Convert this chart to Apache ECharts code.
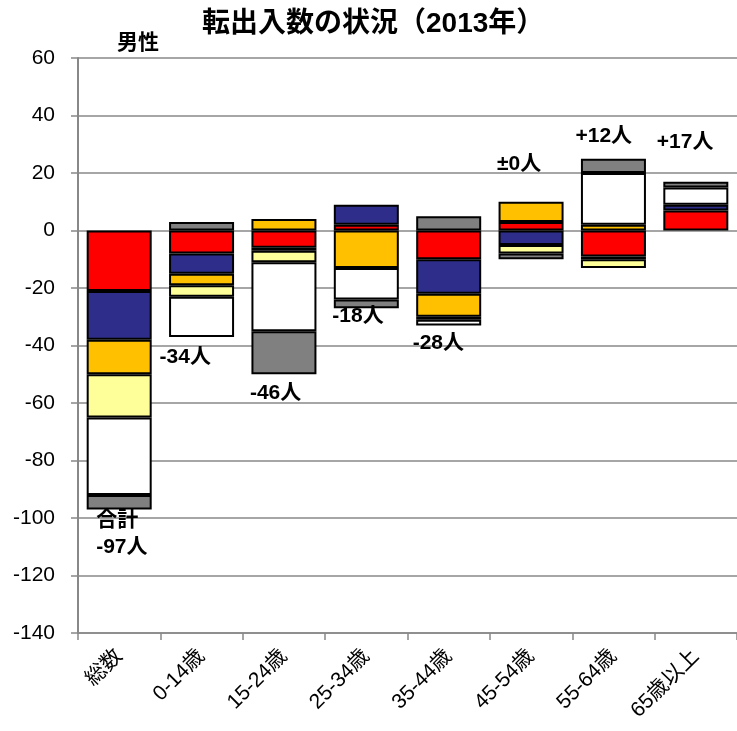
<!DOCTYPE html>
<html>
<head>
<meta charset="utf-8">
<script src="https://cdn.jsdelivr.net/npm/echarts@6/dist/echarts.min.js"></script>
<style>
  html, body { margin: 0; padding: 0; background: #fff; }
  #chart { width: 737px; height: 731px; }
</style>
</head>
<body>
<div id="chart"></div>
<script>
// categories and per-segment values (persons)
const categories = ["総数", "0-14歳", "15-24歳", "25-34歳", "35-44歳", "45-54歳", "55-64歳", "65歳以上"];
const redValues = [-21, -8, -6, 2, -10, 3, -9, 7];
const navyValues = [-17, -7, -1, 7, -12, -5, -1, 2];
const orangeValues = [-12, -4, 4, -13, -8, 7, 2, 0];
const yellowValues = [-15, -4, -4, 0, -1, -3, -3, 0];
const whiteValues = [-27, -14, -24, -11, -2, 0, 18, 6];
const grayValues = [-5, 3, -15, -3, 5, -2, 5, 2];
const netLabels = ["合計\n-97人", "-34人", "-46人", "-18人", "-28人", "±0人", "+12人", "+17人"];
const yTicks = { min: -140, max: 60, step: 20 };

const segments = [
  { name: "s1", values: redValues, color: "#ff0000" },
  { name: "s2", values: navyValues, color: "#2e2e8a" },
  { name: "s3", values: orangeValues, color: "#ffc000" },
  { name: "s4", values: yellowValues, color: "#ffff99" },
  { name: "s5", values: whiteValues, color: "#ffffff" },
  { name: "s6", values: grayValues, color: "#808080" }
];

// label placement (pixel offsets from the bar end)
const labelOffsets = [[-23, 24], [-42, 20], [-34, 19], [-34, 8], [-36, 18], [-34, -38], [-38, -22], [-39, -39]];

const fontJP = "'Liberation Sans', 'Noto Sans CJK JP', sans-serif";

const barSeries = segments.map((s) => {
  return {
    name: s.name,
    type: "bar",
    stack: "all",
    barWidth: 65,
    data: s.values.map((v) => (v === 0 ? "-" : v)),
    itemStyle: { color: s.color, borderColor: "#000", borderWidth: 2 }
  };
});

// bar ends: bottom for net negative, top for net positive
const anchors = categories.map((c, i) => {
  let pos = 0, neg = 0;
  segments.forEach((s) => {
    if (s.values[i] > 0) pos += s.values[i];
    else neg += s.values[i];
  });
  return pos + neg < 0 ? neg : pos;
});

const labelSeries = {
  type: "scatter",
  symbolSize: 0,
  z: 10,
  silent: true,
  itemStyle: { color: "#000", opacity: 1 },
  data: anchors.map((a, i) => {
    return {
      value: [categories[i], a],
      label: {
        show: true,
        position: "inside",
        align: "left",
        verticalAlign: "middle",
        offset: labelOffsets[i],
        formatter: netLabels[i],
        fontFamily: fontJP,
        fontWeight: "bold",
        fontSize: 21,
        lineHeight: 27,
        color: "#000",
        opacity: 1,
        textBorderWidth: 0
      }
    };
  })
};

const chart = echarts.init(document.getElementById("chart"), null, { renderer: "canvas" });

chart.setOption({
  animation: false,
  backgroundColor: "#fff",
  title: [
    {
      text: "転出入数の状況（2013年）",
      left: 197,
      top: 5,
      textStyle: { fontFamily: fontJP, fontWeight: "bold", fontSize: 28, color: "#000" }
    },
    {
      text: "男性",
      left: 112,
      top: 28,
      textStyle: { fontFamily: fontJP, fontWeight: "bold", fontSize: 21, color: "#000" }
    }
  ],
  grid: { left: 78, top: 58, width: 664, height: 575, containLabel: false },
  xAxis: {
    type: "category",
    data: categories,
    axisLine: { onZero: false, lineStyle: { color: "#888", width: 1.5 } },
    axisTick: { show: true, length: 7, lineStyle: { color: "#888", width: 1.5 } },
    axisLabel: {
      rotate: 45,
      margin: 20,
      fontFamily: fontJP,
      fontSize: 21,
      color: "#000"
    },
    splitLine: { show: false }
  },
  yAxis: {
    type: "value",
    min: yTicks.min,
    max: yTicks.max,
    interval: yTicks.step,
    axisLine: { show: true, lineStyle: { color: "#888", width: 2 } },
    axisTick: { show: true, length: 7, lineStyle: { color: "#888", width: 1.5 } },
    axisLabel: { margin: 23, fontFamily: "'Liberation Sans', Arial, sans-serif", fontSize: 21, color: "#000" },
    splitLine: { show: true, lineStyle: { color: "#888", width: 1.5 } }
  },
  series: barSeries.concat([labelSeries])
});
</script>
</body>
</html>
